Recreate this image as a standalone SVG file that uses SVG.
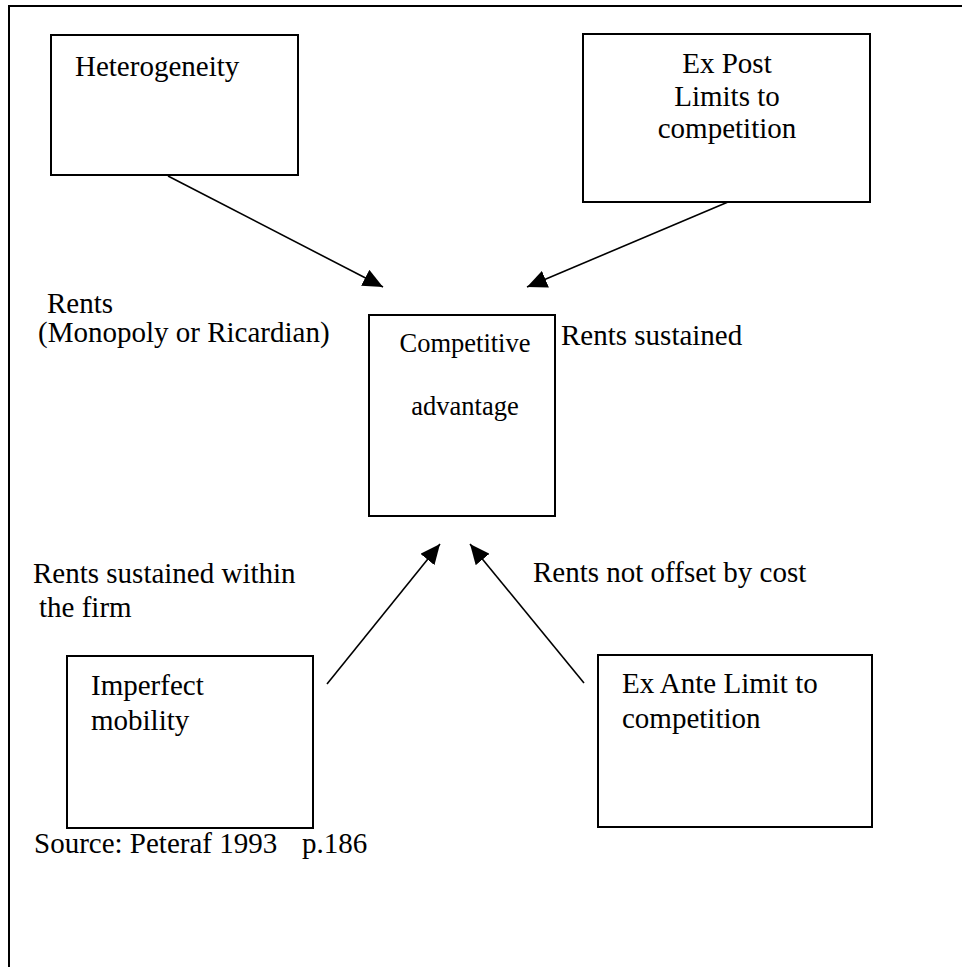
<svg xmlns="http://www.w3.org/2000/svg" width="962" height="967" viewBox="0 0 962 967">
<style>
  .box { fill: #ffffff; stroke: #000000; stroke-width: 2; }
  .t { font-family: "Liberation Serif", "Times New Roman", serif; font-size: 29px; fill: #000000; }
  .tc { font-family: "Liberation Serif", "Times New Roman", serif; font-size: 26.5px; fill: #000000; }
  .conn { stroke: #000000; stroke-width: 1.6; fill: none; }
  .frame { stroke: #000000; stroke-width: 2; fill: none; }
</style>
<defs>
  <marker id="arrow" markerUnits="userSpaceOnUse" viewBox="0 0 20 18" refX="20" refY="9" markerWidth="20" markerHeight="18" orient="auto">
    <path d="M0,0 L20,9 L0,18 z" fill="#000000"/>
  </marker>
</defs>
<rect x="0" y="0" width="962" height="967" fill="#ffffff"/>
<g id="frame">
  <path class="frame" d="M9,967 L9,6 L962,6"/>
</g>
<g id="connectors">
  <line class="conn" x1="168" y1="176" x2="383" y2="287" marker-end="url(#arrow)"/>
  <line class="conn" x1="728" y1="202" x2="527" y2="287" marker-end="url(#arrow)"/>
  <line class="conn" x1="327" y1="684" x2="440" y2="544" marker-end="url(#arrow)"/>
  <line class="conn" x1="584" y1="683" x2="470" y2="544" marker-end="url(#arrow)"/>
</g>
<g id="heterogeneity">
  <rect class="box" x="51" y="35" width="247" height="140"/>
  <text class="t" x="75" y="76">Heterogeneity</text>
</g>
<g id="ex-post">
  <rect class="box" x="583" y="34" width="287" height="168"/>
  <text class="t" x="727" y="73" text-anchor="middle">Ex Post</text>
  <text class="t" x="727" y="106" text-anchor="middle">Limits to</text>
  <text class="t" x="727" y="138" text-anchor="middle">competition</text>
</g>
<g id="competitive-advantage">
  <rect class="box" x="369" y="315" width="186" height="201"/>
  <text class="tc" x="465" y="352" text-anchor="middle">Competitive</text>
  <text class="tc" x="465" y="415" text-anchor="middle">advantage</text>
</g>
<g id="imperfect-mobility">
  <rect class="box" x="67" y="656" width="246" height="172"/>
  <text class="t" x="91" y="695">Imperfect</text>
  <text class="t" x="91" y="730">mobility</text>
</g>
<g id="ex-ante">
  <rect class="box" x="598" y="655" width="274" height="172"/>
  <text class="t" x="622" y="693">Ex Ante Limit to</text>
  <text class="t" x="622" y="728">competition</text>
</g>
<g id="labels">
  <text class="t" x="47" y="313">Rents</text>
  <text class="t" x="38" y="342">(Monopoly or Ricardian)</text>
  <text class="t" x="561" y="345">Rents sustained</text>
  <text class="t" x="33" y="583">Rents sustained within</text>
  <text class="t" x="39" y="617">the firm</text>
  <text class="t" x="533" y="582">Rents not offset by cost</text>
  <text class="t" x="34" y="853">Source: Peteraf 1993<tspan x="302">p.186</tspan></text>
</g>
</svg>
